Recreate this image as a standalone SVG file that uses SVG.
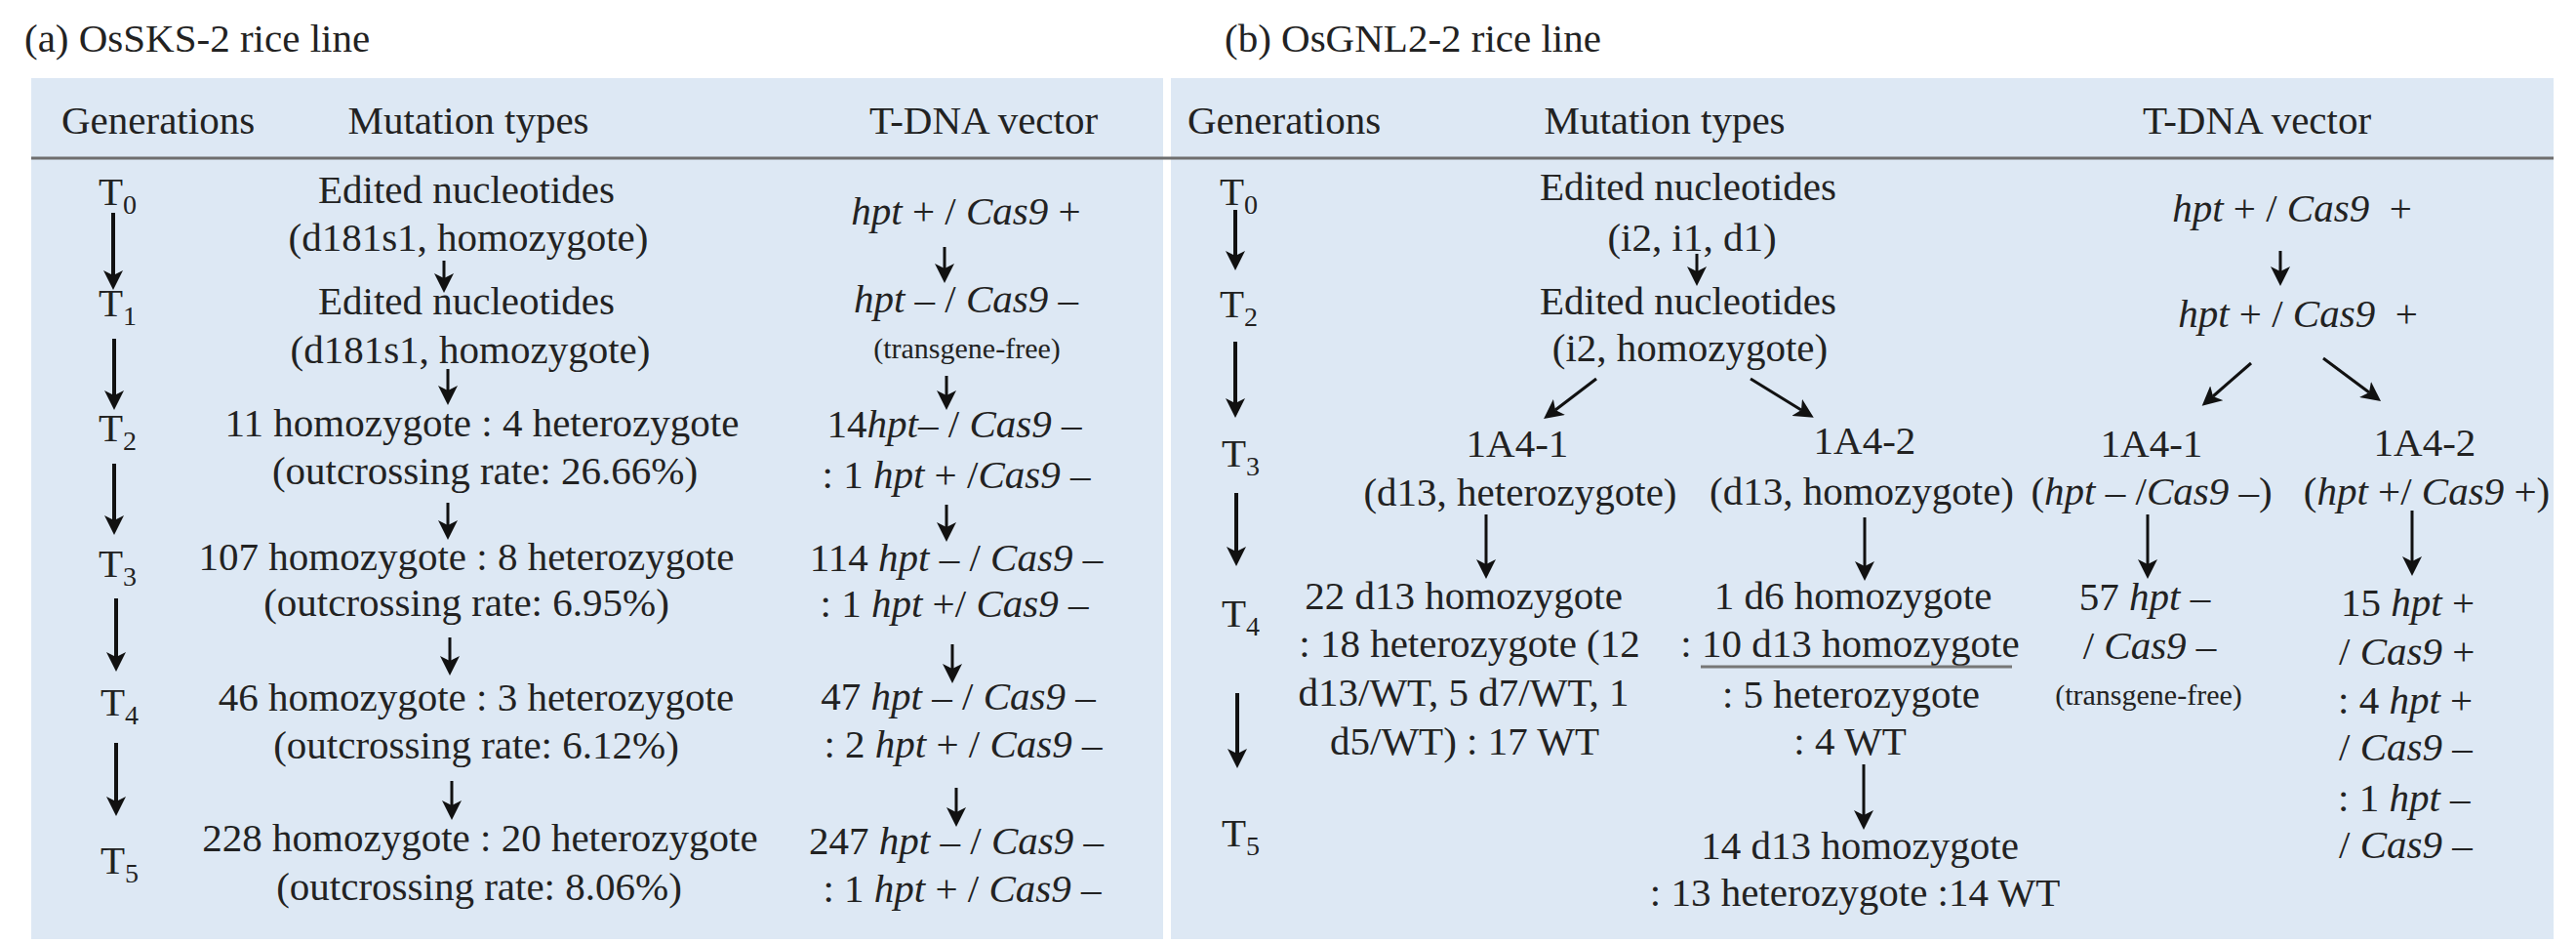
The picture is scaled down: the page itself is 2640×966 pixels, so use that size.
<svg xmlns="http://www.w3.org/2000/svg" width="2640" height="966" viewBox="0 0 2640 966">
<defs>
<style>
text{font-family:"Liberation Serif","Times New Roman",serif;font-size:41px;fill:#222;}
.m{text-anchor:middle;}
.i{font-style:italic;}
.sub{font-size:28px;}
.small{font-size:30px;}
.panel{fill:#dde8f4;}
.hl{stroke:#6e6e6e;stroke-width:3;}
.g{stroke:#111;stroke-width:4;fill:none;marker-end:url(#ah);}
.a{stroke:#111;stroke-width:3;fill:none;marker-end:url(#ah);}
</style>
<marker id="ah" viewBox="0 0 20 20" markerWidth="20" markerHeight="20" markerUnits="userSpaceOnUse" refX="5" refY="10" orient="auto">
<path d="M0,0 L20,10 L0,20 L5,10 z" fill="#111"/>
</marker>
</defs>
<rect width="2640" height="966" fill="#fff"/>
<g id="panel-a-bg"><rect class="panel" x="32" y="80" width="1160" height="882"/></g>
<g id="panel-b-bg"><rect class="panel" x="1200" y="80" width="1417" height="882"/></g>
<line class="hl" x1="32" y1="162" x2="2617" y2="162"/>

<g id="title-a"><text x="25" y="53">(a) OsSKS-2 rice line</text></g>
<g id="title-b"><text x="1255" y="53">(b) OsGNL2-2 rice line</text></g>

<g id="header-a">
<text x="63" y="137">Generations</text>
<text class="m" x="480" y="137">Mutation types</text>
<text class="m" x="1008" y="137">T-DNA vector</text>
</g>
<g id="header-b">
<text x="1217" y="137">Generations</text>
<text class="m" x="1706" y="137">Mutation types</text>
<text class="m" x="2313" y="137">T-DNA vector</text>
</g>

<g id="gen-a">
<text x="101" y="210">T<tspan class="sub" dy="9">0</tspan></text>
<text x="101" y="324">T<tspan class="sub" dy="9">1</tspan></text>
<text x="101" y="452">T<tspan class="sub" dy="9">2</tspan></text>
<text x="101" y="591">T<tspan class="sub" dy="9">3</tspan></text>
<text x="103" y="733">T<tspan class="sub" dy="9">4</tspan></text>
<text x="103" y="895">T<tspan class="sub" dy="9">5</tspan></text>
</g>

<g id="mut-a-t0"><text class="m" x="478" y="208">Edited nucleotides</text><text class="m" x="480" y="257">(d181s1, homozygote)</text></g>
<g id="mut-a-t1"><text class="m" x="478" y="322">Edited nucleotides</text><text class="m" x="482" y="372">(d181s1, homozygote)</text></g>
<g id="mut-a-t2"><text class="m" x="494" y="447">11 homozygote : 4 heterozygote</text><text class="m" x="497" y="496">(outcrossing rate: 26.66%)</text></g>
<g id="mut-a-t3"><text class="m" x="478" y="584">107 homozygote : 8 heterozygote</text><text class="m" x="478" y="631">(outcrossing rate: 6.95%)</text></g>
<g id="mut-a-t4"><text class="m" x="488" y="728">46 homozygote : 3 heterozygote</text><text class="m" x="488" y="777">(outcrossing rate: 6.12%)</text></g>
<g id="mut-a-t5"><text class="m" x="492" y="872">228 homozygote : 20 heterozygote</text><text class="m" x="491" y="922">(outcrossing rate: 8.06%)</text></g>

<g id="vec-a-t0"><text class="m" x="990" y="230"><tspan class="i">hpt</tspan> + / <tspan class="i">Cas9</tspan> +</text></g>
<g id="vec-a-t1"><text class="m" x="990" y="320"><tspan class="i">hpt</tspan> – / <tspan class="i">Cas9</tspan> –</text><text class="m small" x="991" y="367">(transgene-free)</text></g>
<g id="vec-a-t2"><text class="m" x="978" y="448">14<tspan class="i">hpt</tspan>– / <tspan class="i">Cas9</tspan> –</text><text class="m" x="980" y="500">: 1 <tspan class="i">hpt</tspan> + /<tspan class="i">Cas9</tspan> –</text></g>
<g id="vec-a-t3"><text class="m" x="980" y="585">114 <tspan class="i">hpt</tspan> – / <tspan class="i">Cas9</tspan> –</text><text class="m" x="978" y="632">: 1 <tspan class="i">hpt</tspan> +/ <tspan class="i">Cas9</tspan> –</text></g>
<g id="vec-a-t4"><text class="m" x="982" y="727">47 <tspan class="i">hpt</tspan> – / <tspan class="i">Cas9</tspan> –</text><text class="m" x="987" y="776">: 2 <tspan class="i">hpt</tspan> + / <tspan class="i">Cas9</tspan> –</text></g>
<g id="vec-a-t5"><text class="m" x="980" y="875">247 <tspan class="i">hpt</tspan> – / <tspan class="i">Cas9</tspan> –</text><text class="m" x="986" y="924">: 1 <tspan class="i">hpt</tspan> + / <tspan class="i">Cas9</tspan> –</text></g>

<g id="gen-b">
<text x="1250" y="210">T<tspan class="sub" dy="9">0</tspan></text>
<text x="1250" y="325">T<tspan class="sub" dy="9">2</tspan></text>
<text x="1252" y="478">T<tspan class="sub" dy="9">3</tspan></text>
<text x="1252" y="642">T<tspan class="sub" dy="9">4</tspan></text>
<text x="1252" y="867">T<tspan class="sub" dy="9">5</tspan></text>
</g>

<g id="mut-b-t0"><text class="m" x="1730" y="205">Edited nucleotides</text><text class="m" x="1734" y="257">(i2, i1, d1)</text></g>
<g id="mut-b-t2"><text class="m" x="1730" y="322">Edited nucleotides</text><text class="m" x="1732" y="370">(i2, homozygote)</text></g>
<g id="mut-b-1a41"><text class="m" x="1555" y="468">1A4-1</text><text class="m" x="1558" y="518">(d13, heterozygote)</text></g>
<g id="mut-b-1a42"><text class="m" x="1911" y="465">1A4-2</text><text class="m" x="1908" y="517">(d13, homozygote)</text></g>
<g id="mut-b-t4-left">
<text class="m" x="1500" y="624">22 d13 homozygote</text>
<text class="m" x="1506" y="673">: 18 heterozygote (12</text>
<text class="m" x="1500" y="723">d13/WT, 5 d7/WT, 1</text>
<text class="m" x="1501" y="773">d5/WT) : 17 WT</text>
</g>
<g id="mut-b-t4-mid">
<text class="m" x="1899" y="624">1 d6 homozygote</text>
<text class="m" x="1896" y="673">: 10 d13 homozygote</text>
<line x1="1743" y1="683" x2="2062" y2="683" stroke="#777" stroke-width="3"/>
<text class="m" x="1897" y="725">: 5 heterozygote</text>
<text class="m" x="1896" y="773">: 4 WT</text>
</g>
<g id="mut-b-t5"><text class="m" x="1906" y="880">14 d13 homozygote</text><text class="m" x="1901" y="928">: 13 heterozygote :14 WT</text></g>

<g id="vec-b-t0"><text class="m" x="2349" y="227"><tspan class="i">hpt</tspan> + / <tspan class="i">Cas9</tspan>&#160; +</text></g>
<g id="vec-b-t2"><text class="m" x="2355" y="335"><tspan class="i">hpt</tspan> + / <tspan class="i">Cas9</tspan>&#160; +</text></g>
<g id="vec-b-1a41"><text class="m" x="2205" y="468">1A4-1</text><text class="m" x="2205" y="517">(<tspan class="i">hpt</tspan> – /<tspan class="i">Cas9</tspan> –)</text></g>
<g id="vec-b-1a42"><text class="m" x="2485" y="467">1A4-2</text><text class="m" x="2487" y="517">(<tspan class="i">hpt</tspan> +/ <tspan class="i">Cas9</tspan> +)</text></g>
<g id="vec-b-57">
<text class="m" x="2198" y="625">57 <tspan class="i">hpt</tspan> –</text>
<text class="m" x="2203" y="675">/ <tspan class="i">Cas9</tspan> –</text>
<text class="m small" x="2202" y="722">(transgene-free)</text>
</g>
<g id="vec-b-15">
<text x="2399" y="631">15 <tspan class="i">hpt</tspan> +</text>
<text x="2397" y="681">/ <tspan class="i">Cas9</tspan> +</text>
<text x="2396" y="731">: 4 <tspan class="i">hpt</tspan> +</text>
<text x="2397" y="779">/ <tspan class="i">Cas9</tspan> –</text>
<text x="2396" y="831">: 1 <tspan class="i">hpt</tspan> –</text>
<text x="2397" y="879">/ <tspan class="i">Cas9</tspan> –</text>
</g>

<g id="connectors">
<line class="g" x1="116" y1="218" x2="116" y2="282"/>
<line class="g" x1="117" y1="347" x2="117" y2="405"/>
<line class="g" x1="117" y1="475" x2="117" y2="533"/>
<line class="g" x1="119" y1="613" x2="119" y2="673"/>
<line class="g" x1="119" y1="761" x2="119" y2="821"/>
<line class="a" x1="455" y1="267" x2="455" y2="285"/>
<line class="a" x1="459" y1="378" x2="459" y2="400"/>
<line class="a" x1="459" y1="515" x2="459" y2="538"/>
<line class="a" x1="461" y1="653" x2="461" y2="677"/>
<line class="a" x1="463" y1="800" x2="463" y2="825"/>
<line class="a" x1="968" y1="253" x2="968" y2="275"/>
<line class="a" x1="970" y1="385" x2="970" y2="405"/>
<line class="a" x1="970" y1="517" x2="970" y2="540"/>
<line class="a" x1="976" y1="660" x2="976" y2="685"/>
<line class="a" x1="980" y1="807" x2="980" y2="832"/>
<line class="g" x1="1266" y1="215" x2="1266" y2="262"/>
<line class="g" x1="1266" y1="350" x2="1266" y2="413"/>
<line class="g" x1="1267" y1="505" x2="1267" y2="565"/>
<line class="g" x1="1268" y1="710" x2="1268" y2="772"/>
<line class="a" x1="1739" y1="260" x2="1739" y2="278"/>
<line class="a" x1="2337" y1="257" x2="2337" y2="278"/>
<line class="a" x1="1636" y1="388" x2="1594" y2="420"/>
<line class="a" x1="1794" y1="388" x2="1846" y2="420"/>
<line class="a" x1="2307" y1="372" x2="2268" y2="406"/>
<line class="a" x1="2381" y1="367" x2="2428" y2="402"/>
<line class="a" x1="1523" y1="527" x2="1523" y2="578"/>
<line class="a" x1="1911" y1="530" x2="1911" y2="580"/>
<line class="a" x1="2201" y1="527" x2="2201" y2="578"/>
<line class="a" x1="2472" y1="523" x2="2472" y2="575"/>
<line class="a" x1="1910" y1="783" x2="1910" y2="835"/>
</g>
</svg>
